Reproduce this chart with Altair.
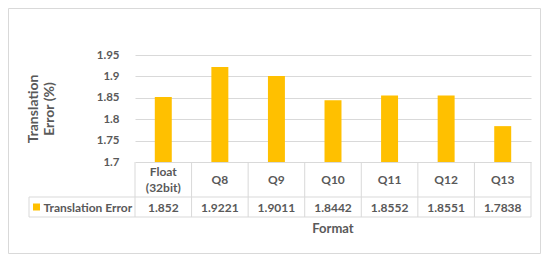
import altair as alt
import pandas as pd

formats = ["Float\n(32bit)", "Q8", "Q9", "Q10", "Q11", "Q12", "Q13"]
errors = [1.852, 1.9221, 1.9011, 1.8442, 1.8552, 1.8551, 1.7838]
labels = ["1.852", "1.9221", "1.9011", "1.8442", "1.8552", "1.8551", "1.7838"]
series_name = "Translation Error"
y_ticks = [1.7, 1.75, 1.8, 1.85, 1.9, 1.95]

df = pd.DataFrame({"fmt": formats, "val": errors, "lab": labels})
one = pd.DataFrame({"a": [0]})

FONT = "Lato"
TXT = "#595959"
LINE = "#d9d9d9"
BAR = "#FFC000"
W, H = 396, 107

xs = alt.Scale(domain=formats, paddingInner=0, paddingOuter=0)
X = alt.X("fmt:N", scale=xs, axis=None, sort=formats)

bars = alt.Chart(df).mark_bar(color=BAR, width=alt.RelativeBandSize(0.3)).encode(
    x=X,
    y=alt.Y("val:Q", scale=alt.Scale(domain=[1.7, 1.95], nice=False, zero=False),
            axis=alt.Axis(values=y_ticks, format=".2~f", grid=True, gridColor=LINE,
                          domain=False, ticks=False, labelPadding=16,
                          labelFont=FONT, labelFontSize=11.5, labelFontWeight="bold",
                          labelColor=TXT, title=["Translation", "Error (%)"],
                          titleFont=FONT, titleFontSize=14, titleFontWeight="bold",
                          titleColor=TXT, titlePadding=40, titleLineHeight=16)),
    y2=alt.datum(1.7),
)

# table vertical lines at cell boundaries
vlines = alt.Chart(df).mark_rule(color=LINE, strokeWidth=1).encode(
    x=alt.X("fmt:N", scale=xs, axis=None, sort=formats, bandPosition=0),
    y=alt.value(H), y2=alt.value(162),
)
vlast = alt.Chart(one).mark_rule(color=LINE).encode(
    x=alt.value(W), y=alt.value(H), y2=alt.value(162))
vleft = alt.Chart(one).mark_rule(color=LINE).encode(
    x=alt.value(-106), y=alt.value(142), y2=alt.value(162))
h1 = alt.Chart(one).mark_rule(color=LINE).encode(
    x=alt.value(-106), x2=alt.value(W), y=alt.value(142))
h2 = alt.Chart(one).mark_rule(color=LINE).encode(
    x=alt.value(-106), x2=alt.value(W), y=alt.value(162))

tstyle = dict(font=FONT, fontSize=12, fontWeight="bold", color=TXT, baseline="middle")

head1 = alt.Chart(df).transform_filter("indexof(datum.fmt, '\\n') < 0").mark_text(
    **tstyle).encode(x=X, y=alt.value(125), text="fmt:N")
head2 = alt.Chart(df).transform_filter("indexof(datum.fmt, '\\n') >= 0").mark_text(
    lineBreak="\n", lineHeight=15.5, **tstyle).encode(x=X, y=alt.value(117), text="fmt:N")
vals = alt.Chart(df).mark_text(**tstyle).encode(
    x=X, y=alt.value(152.5), text="lab:N")

sq = alt.Chart(one).mark_rect(color=BAR).encode(
    x=alt.value(-102), x2=alt.value(-95), y=alt.value(148.5), y2=alt.value(155.5))
legtxt = alt.Chart(one).mark_text(align="left", **tstyle).encode(
    x=alt.value(-91.5), y=alt.value(152.5), text=alt.value(series_name))

fmt_title = alt.Chart(one).mark_text(font=FONT, fontSize=13, fontWeight="bold", color=TXT,
                                     baseline="middle").encode(
    x=alt.value(W / 2), y=alt.value(174), text=alt.value("Format"))

border = alt.Chart(one).mark_rect(fill=None, stroke=LINE, strokeWidth=1).encode(
    x=alt.value(-126.5), x2=alt.value(405.5), y=alt.value(-46.5), y2=alt.value(198.5))

chart = alt.layer(border, bars, vlines, vlast, vleft, h1, h2, head1, head2, vals, sq,
                  legtxt, fmt_title).properties(
    width=W, height=H,
    padding={"left": 127, "top": 47, "right": 11, "bottom": 92},
    autosize=alt.AutoSizeParams(type="none"),
).configure_view(stroke=None)

chart.save("out.html", embed_options={"renderer": "svg", "actions": False})
